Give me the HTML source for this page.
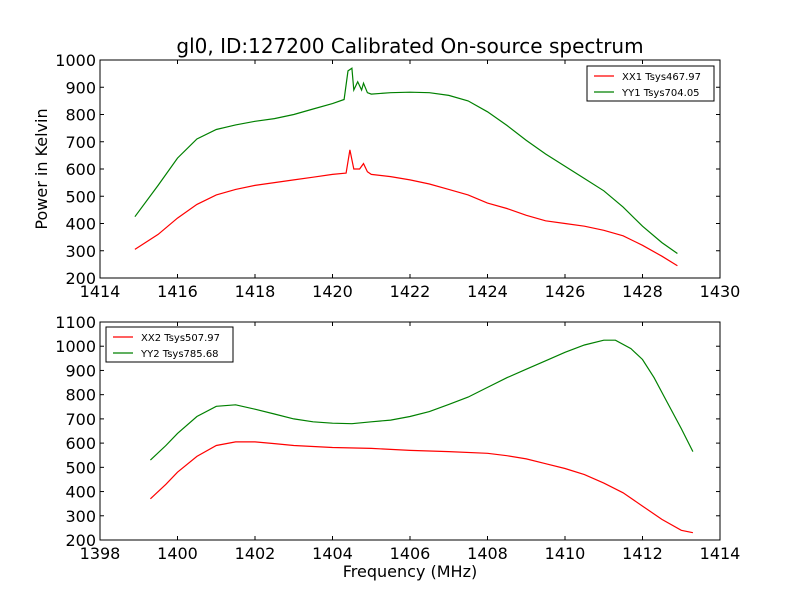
<!DOCTYPE html>
<html><head><meta charset="utf-8"><style>
body{margin:0;background:#fff;}
svg text{font-family:"DejaVu Sans","Liberation Sans",sans-serif;}
</style></head><body>
<svg id="c" width="800" height="600"></svg>
<script>
const xx1F=[1414.9,1415.5,1416,1416.5,1417,1417.5,1418,1418.5,1419,1419.5,1420,1420.35,1420.45,1420.55,1420.7,1420.8,1420.9,1421,1421.5,1422,1422.5,1423,1423.5,1424,1424.5,1425,1425.5,1426,1426.5,1427,1427.5,1428,1428.5,1428.9];
const xx1V=[305,360,420,470,505,525,540,550,560,570,580,585,670,600,600,620,590,580,572,560,545,525,505,475,455,430,410,400,390,375,355,320,280,245];
const yy1F=[1414.9,1415.5,1416,1416.5,1417,1417.5,1418,1418.5,1419,1419.5,1420,1420.3,1420.4,1420.5,1420.55,1420.65,1420.75,1420.8,1420.9,1421,1421.5,1422,1422.5,1423,1423.5,1424,1424.5,1425,1425.5,1426,1426.5,1427,1427.5,1428,1428.5,1428.9];
const yy1V=[425,540,640,710,745,762,775,785,800,820,840,855,960,970,890,920,890,915,880,875,880,882,880,870,850,810,760,705,655,610,565,520,460,390,330,290];
const xx2F=[1399.3,1399.7,1400,1400.5,1401,1401.5,1402,1402.5,1403,1404,1405,1406,1407,1408,1408.5,1409,1409.5,1410,1410.5,1411,1411.5,1412,1412.5,1413,1413.3];
const xx2V=[370,430,480,545,590,605,605,598,590,582,578,570,565,558,548,535,515,495,470,435,395,340,285,240,230];
const yy2F=[1399.3,1399.7,1400,1400.5,1401,1401.5,1402,1402.5,1403,1403.5,1404,1404.5,1405,1405.5,1406,1406.5,1407,1407.5,1408,1408.5,1409,1409.5,1410,1410.5,1411,1411.3,1411.7,1412,1412.3,1412.6,1413,1413.3];
const yy2V=[530,590,640,710,752,758,740,720,700,688,682,680,688,695,710,730,760,790,830,870,905,940,975,1005,1025,1025,990,945,870,780,660,565];
const topXTicks=[1414,1416,1418,1420,1422,1424,1426,1428,1430];
const topYTicks=[200,300,400,500,600,700,800,900,1000];
const botXTicks=[1398,1400,1402,1404,1406,1408,1410,1412,1414];
const botYTicks=[200,300,400,500,600,700,800,900,1000,1100];

const svg=document.getElementById('c');
const NS='http://www.w3.org/2000/svg';
function mk(t,a,p){const e=document.createElementNS(NS,t);for(const k in a)e.setAttribute(k,a[k]);(p||svg).appendChild(e);return e;}

function panel(name,x0,x1,y0,y1,L,T,W,H,xt,yt,series,legend,legX,legY,legW){
  const g=mk('g',{});
  
  
  const sx=v=>L+(v-x0)/(x1-x0)*W, sy=v=>T+H-(v-y0)/(y1-y0)*H;
  series.forEach(s=>{
    const pts=s.f.map((f,i)=>sx(f).toFixed(1)+','+sy(s.v[i]).toFixed(1)).join(' ');
    const pl=mk('polyline',{points:pts,fill:'none',stroke:s.c,'stroke-width':1.2},g);
    
    
  });
  mk('rect',{x:L,y:T,width:W,height:H,fill:'none',stroke:'#000','stroke-width':1},g);
  xt.forEach(v=>{const x=sx(v);
    mk('line',{x1:x,x2:x,y1:T+H,y2:T+H-4,stroke:'#000'},g);
    mk('line',{x1:x,x2:x,y1:T,y2:T+4,stroke:'#000'},g);
    const t=mk('text',{x:x,y:T+H+19,'text-anchor':'middle','font-size':16},g);t.textContent=v;
    
    });
  yt.forEach(v=>{const y=sy(v);
    mk('line',{x1:L,x2:L+4,y1:y,y2:y,stroke:'#000'},g);
    mk('line',{x1:L+W,x2:L+W-4,y1:y,y2:y,stroke:'#000'},g);
    const t=mk('text',{x:L-4,y:y+6,'text-anchor':'end','font-size':16},g);t.textContent=v;
    
    });
  const lg=mk('g',{},g);
  
  
  mk('rect',{x:legX,y:legY,width:legW,height:35,fill:'#fff',stroke:'#000'},lg);
  legend.forEach((l,i)=>{const y=legY+10+i*16;
    mk('line',{x1:legX+7,x2:legX+27,y1:y,y2:y,stroke:l.c,'stroke-width':1.2},lg);
    const t=mk('text',{x:legX+35,y:y+4,'font-size':10},lg);t.textContent=l.t;
    
    });
}
panel('top-axes',1414,1430,200,1000,100,60,620,218,topXTicks,topYTicks,
 [{f:xx1F,v:xx1V,c:'#ff0000',n:'xx1-line'},{f:yy1F,v:yy1V,c:'#008000',n:'yy1-line'}],
 [{c:'#ff0000',t:'XX1 Tsys467.97'},{c:'#008000',t:'YY1 Tsys704.05'}],587,66,127);
panel('bottom-axes',1398,1414,200,1100,100,322,620,218,botXTicks,botYTicks,
 [{f:xx2F,v:xx2V,c:'#ff0000',n:'xx2-line'},{f:yy2F,v:yy2V,c:'#008000',n:'yy2-line'}],
 [{c:'#ff0000',t:'XX2 Tsys507.97'},{c:'#008000',t:'YY2 Tsys785.68'}],106,327,127);
let t=mk('text',{x:410,y:53,'text-anchor':'middle','font-size':20});t.textContent='gl0, ID:127200 Calibrated On-source spectrum';


t=mk('text',{x:0,y:0,'text-anchor':'middle','font-size':16,transform:'translate(47,169) rotate(-90)'});t.textContent='Power in Kelvin';


t=mk('text',{x:410,y:577,'text-anchor':'middle','font-size':16});t.textContent='Frequency (MHz)';


</script>
</body></html>
